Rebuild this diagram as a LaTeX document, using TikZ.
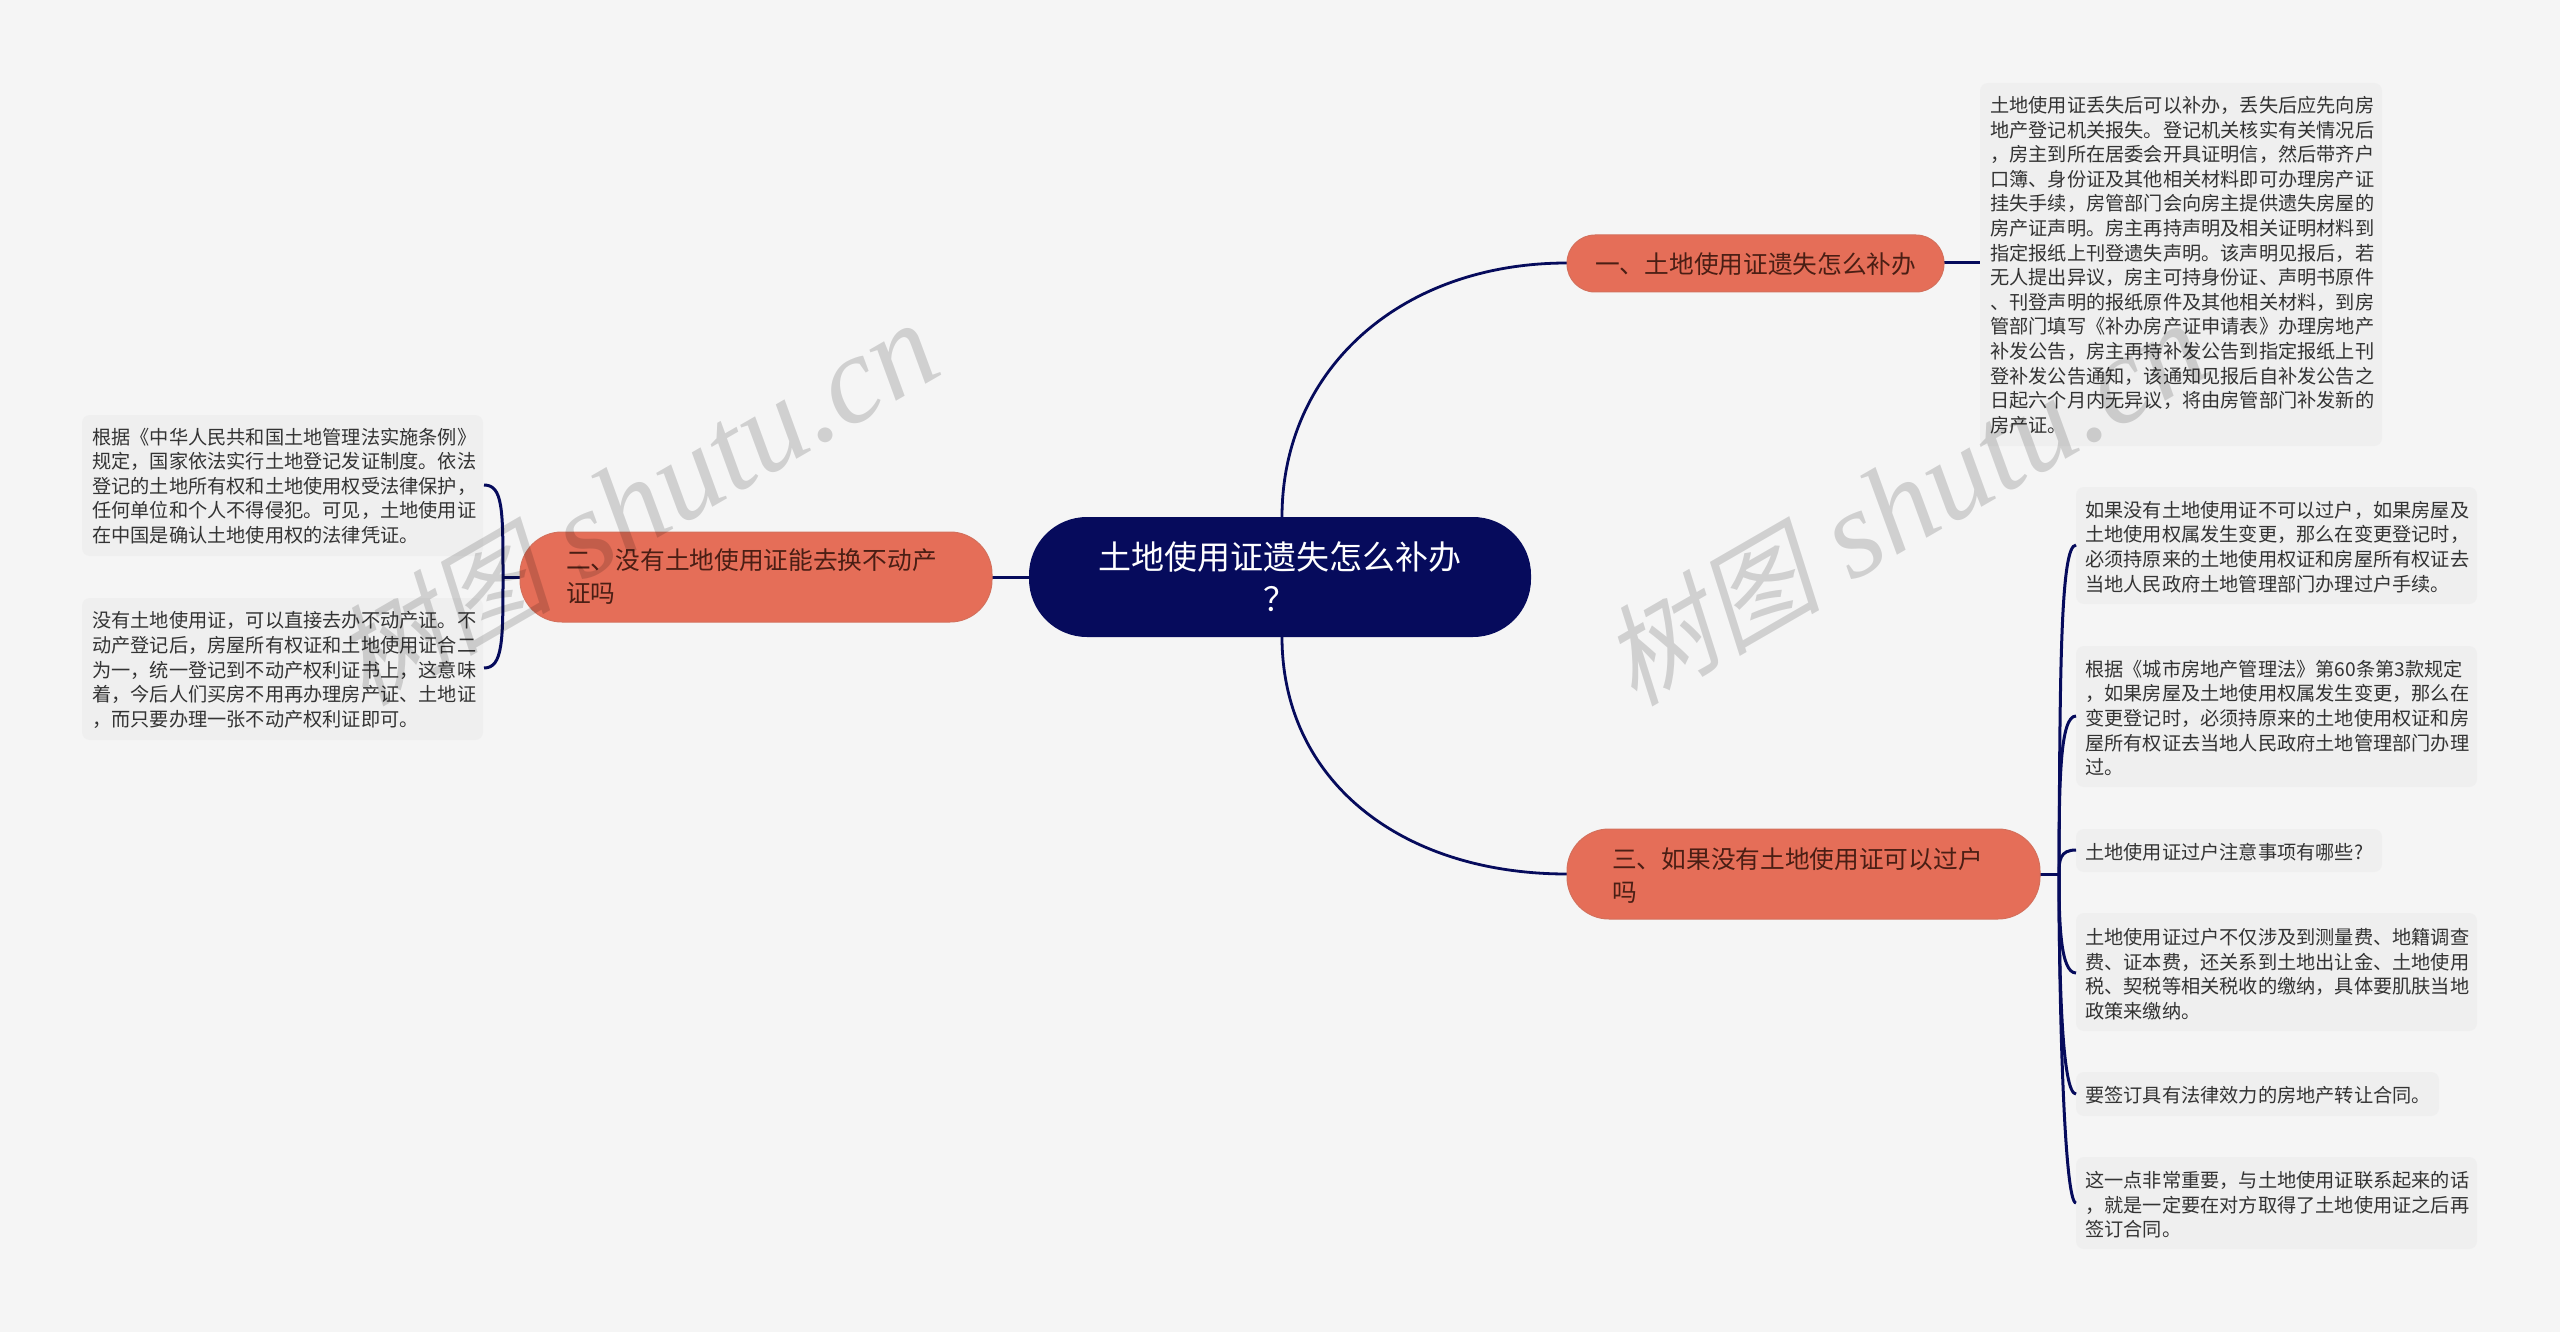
\documentclass[tikz,border=0pt]{standalone}
\usepackage{fontspec}
\setmainfont{Noto Sans CJK SC}
\newfontfamily\wmfont[Ligatures=TeX]{Liberation Serif}
\newfontfamily\cjkslant[FakeSlant=0.22]{Noto Sans CJK SC}
\definecolor{bgc}{HTML}{F5F5F5}
\definecolor{navy}{HTML}{060B5C}
\definecolor{coral}{HTML}{E56E58}
\definecolor{coraledge}{HTML}{D4705C}
\definecolor{boxc}{HTML}{EFEFEF}
\definecolor{txt}{HTML}{333333}
\definecolor{darktxt}{HTML}{4A1E14}
\tikzset{
 x=1pt,y=-1pt,
 conn/.style={draw=navy,line width=3pt},
 thinconn/.style={draw=navy,line width=2.8pt},
 textbox/.style={fill=boxc,rounded corners=8pt,draw=none},
 para/.style={anchor=west,inner sep=0pt,text=txt,font=\fontsize{19.2}{24.6}\selectfont},
 topicA/.style={fill=coral,draw=coraledge,line width=1pt,rounded corners=28pt},
 topicB/.style={fill=coral,draw=coraledge,line width=1pt,rounded corners=42pt},
 toplabel/.style={anchor=west,inner sep=0pt,text=darktxt,font=\fontsize{24.7}{33}\selectfont},
 watermark/.style={text=black,text opacity=.15,inner sep=0pt,anchor=base west},
}
\newcommand{\wmtext}{{\cjkslant\fontsize{110}{110}\selectfont 树图}{\wmfont\itshape\fontsize{125}{125}\selectfont\ shutu.cn}}
\begin{document}
\begin{tikzpicture}
\useasboundingbox (0,0) rectangle (2560,1332);
\fill[bgc] (0,0) rectangle (2560,1332);
% boxes
\path[textbox] (1980,83) rectangle (2382,446);
\path[textbox] (2076,487) rectangle (2477,604);
\path[textbox] (2076,646) rectangle (2477,787);
\path[textbox] (2076,829) rectangle (2382,872);
\path[textbox] (2076,913) rectangle (2477,1031);
\path[textbox] (2076,1072) rectangle (2439,1116);
\path[textbox] (2076,1157) rectangle (2477,1249);
\path[textbox] (82,415) rectangle (483,556);
\path[textbox] (82,598) rectangle (483,740);
% anchors
\coordinate (cT) at (1282,517);
\coordinate (cB) at (1282,637);
\coordinate (aL) at (1567,263);
\coordinate (aR) at (1944,263);
\coordinate (aS) at (1980,263);
\coordinate (cL) at (1567,874);
\coordinate (cR) at (2040,874);
\coordinate (hub) at (2059,874);
\coordinate (bR) at (520,577);
\coordinate (bL) at (503,577);
% connectors
\draw[thinconn] (cT) .. controls (1282,370) and (1400,263) .. (aL);
\draw[thinconn] (cB) .. controls (1282,780) and (1400,874) .. (cL);
\draw[conn] (aR) -- (aS);
\draw[conn] (992,577) -- (1029,577);
\draw[conn] (cR) -- (hub);
\draw[conn] (bR) -- (bL);
\draw[conn] (bL) .. controls (503,510) and (503,485) .. (484,485);
\draw[conn] (bL) .. controls (503,640) and (503,668) .. (484,668);
\draw[conn] (hub) .. controls (2060,680) and (2060,545) .. (2076,545);
\draw[conn] (hub) .. controls (2059,780) and (2060,716) .. (2076,716);
\draw[conn] (hub) .. controls (2059,860) and (2060,850) .. (2076,850);
\draw[conn] (hub) .. controls (2059,920) and (2060,973) .. (2076,973);
\draw[conn] (hub) .. controls (2059,980) and (2062,1094) .. (2076,1094);
\draw[conn] (hub) .. controls (2059,1000) and (2064,1203) .. (2076,1203);
% topics
\path[fill=navy,rounded corners=58pt] (1029,517) rectangle (1531,637);
\node[anchor=center,text=white,font=\fontsize{33}{42}\selectfont,align=center,inner sep=0pt,text width=380pt] (root) at (1280,577) {土地使用证遗失怎么补办\\？};
\path[topicB] (520,532) rectangle (992,622);
\path[topicA] (1567,235) rectangle (1944,292);
\path[topicB] (1567,829) rectangle (2040,919);
\node[toplabel,align=left] (n2) at (566,577) {二、没有土地使用证能去换不动产\\证吗};
\node[toplabel] (n1) at (1595,264) {一、土地使用证遗失怎么补办};
\node[toplabel,align=left] (n3) at (1612,875) {三、如果没有土地使用证可以过户\\吗};
% paragraphs
\node[para,align=left] (p1) at (1990,265) {土地使用证丢失后可以补办，丢失后应先向房\\地产登记机关报失。登记机关核实有关情况后\\，房主到所在居委会开具证明信，然后带齐户\\口簿、身份证及其他相关材料即可办理房产证\\挂失手续，房管部门会向房主提供遗失房屋的\\房产证声明。房主再持声明及相关证明材料到\\指定报纸上刊登遗失声明。该声明见报后，若\\无人提出异议，房主可持身份证、声明书原件\\、刊登声明的报纸原件及其他相关材料，到房\\管部门填写《补办房产证申请表》办理房地产\\补发公告，房主再持补发公告到指定报纸上刊\\登补发公告通知，该通知见报后自补发公告之\\日起六个月内无异议，将由房管部门补发新的\\房产证。};
\node[para,align=left] (p2) at (2085,547) {如果没有土地使用证不可以过户，如果房屋及\\土地使用权属发生变更，那么在变更登记时，\\必须持原来的土地使用权证和房屋所有权证去\\当地人民政府土地管理部门办理过户手续。};
\node[para,align=left] (p3) at (2085,718) {根据《城市房地产管理法》第60条第3款规定\\，如果房屋及土地使用权属发生变更，那么在\\变更登记时，必须持原来的土地使用权证和房\\屋所有权证去当地人民政府土地管理部门办理\\过。};
\node[para] (p4) at (2085,852) {土地使用证过户注意事项有哪些?};
\node[para,align=left] (p5) at (2085,974) {土地使用证过户不仅涉及到测量费、地籍调查\\费、证本费，还关系到土地出让金、土地使用\\税、契税等相关税收的缴纳，具体要肌肤当地\\政策来缴纳。};
\node[para] (p6) at (2085,1095) {要签订具有法律效力的房地产转让合同。};
\node[para,align=left] (p7) at (2085,1205) {这一点非常重要，与土地使用证联系起来的话\\，就是一定要在对方取得了土地使用证之后再\\签订合同。};
\node[para,align=left] (p8) at (92,486) {根据《中华人民共和国土地管理法实施条例》\\规定，国家依法实行土地登记发证制度。依法\\登记的土地所有权和土地使用权受法律保护，\\任何单位和个人不得侵犯。可见，土地使用证\\在中国是确认土地使用权的法律凭证。};
\node[para,align=left] (p9) at (92,670) {没有土地使用证，可以直接去办不动产证。不\\动产登记后，房屋所有权证和土地使用证合二\\为一，统一登记到不动产权利证书上，这意味\\着，今后人们买房不用再办理房产证、土地证\\，而只要办理一张不动产权利证即可。};
% watermarks
\node[watermark,rotate=30] (wmA) at (365,708) {\wmtext};
\node[watermark,rotate=30] (wmB) at (1634,708) {\wmtext};
\end{tikzpicture}
\end{document}
